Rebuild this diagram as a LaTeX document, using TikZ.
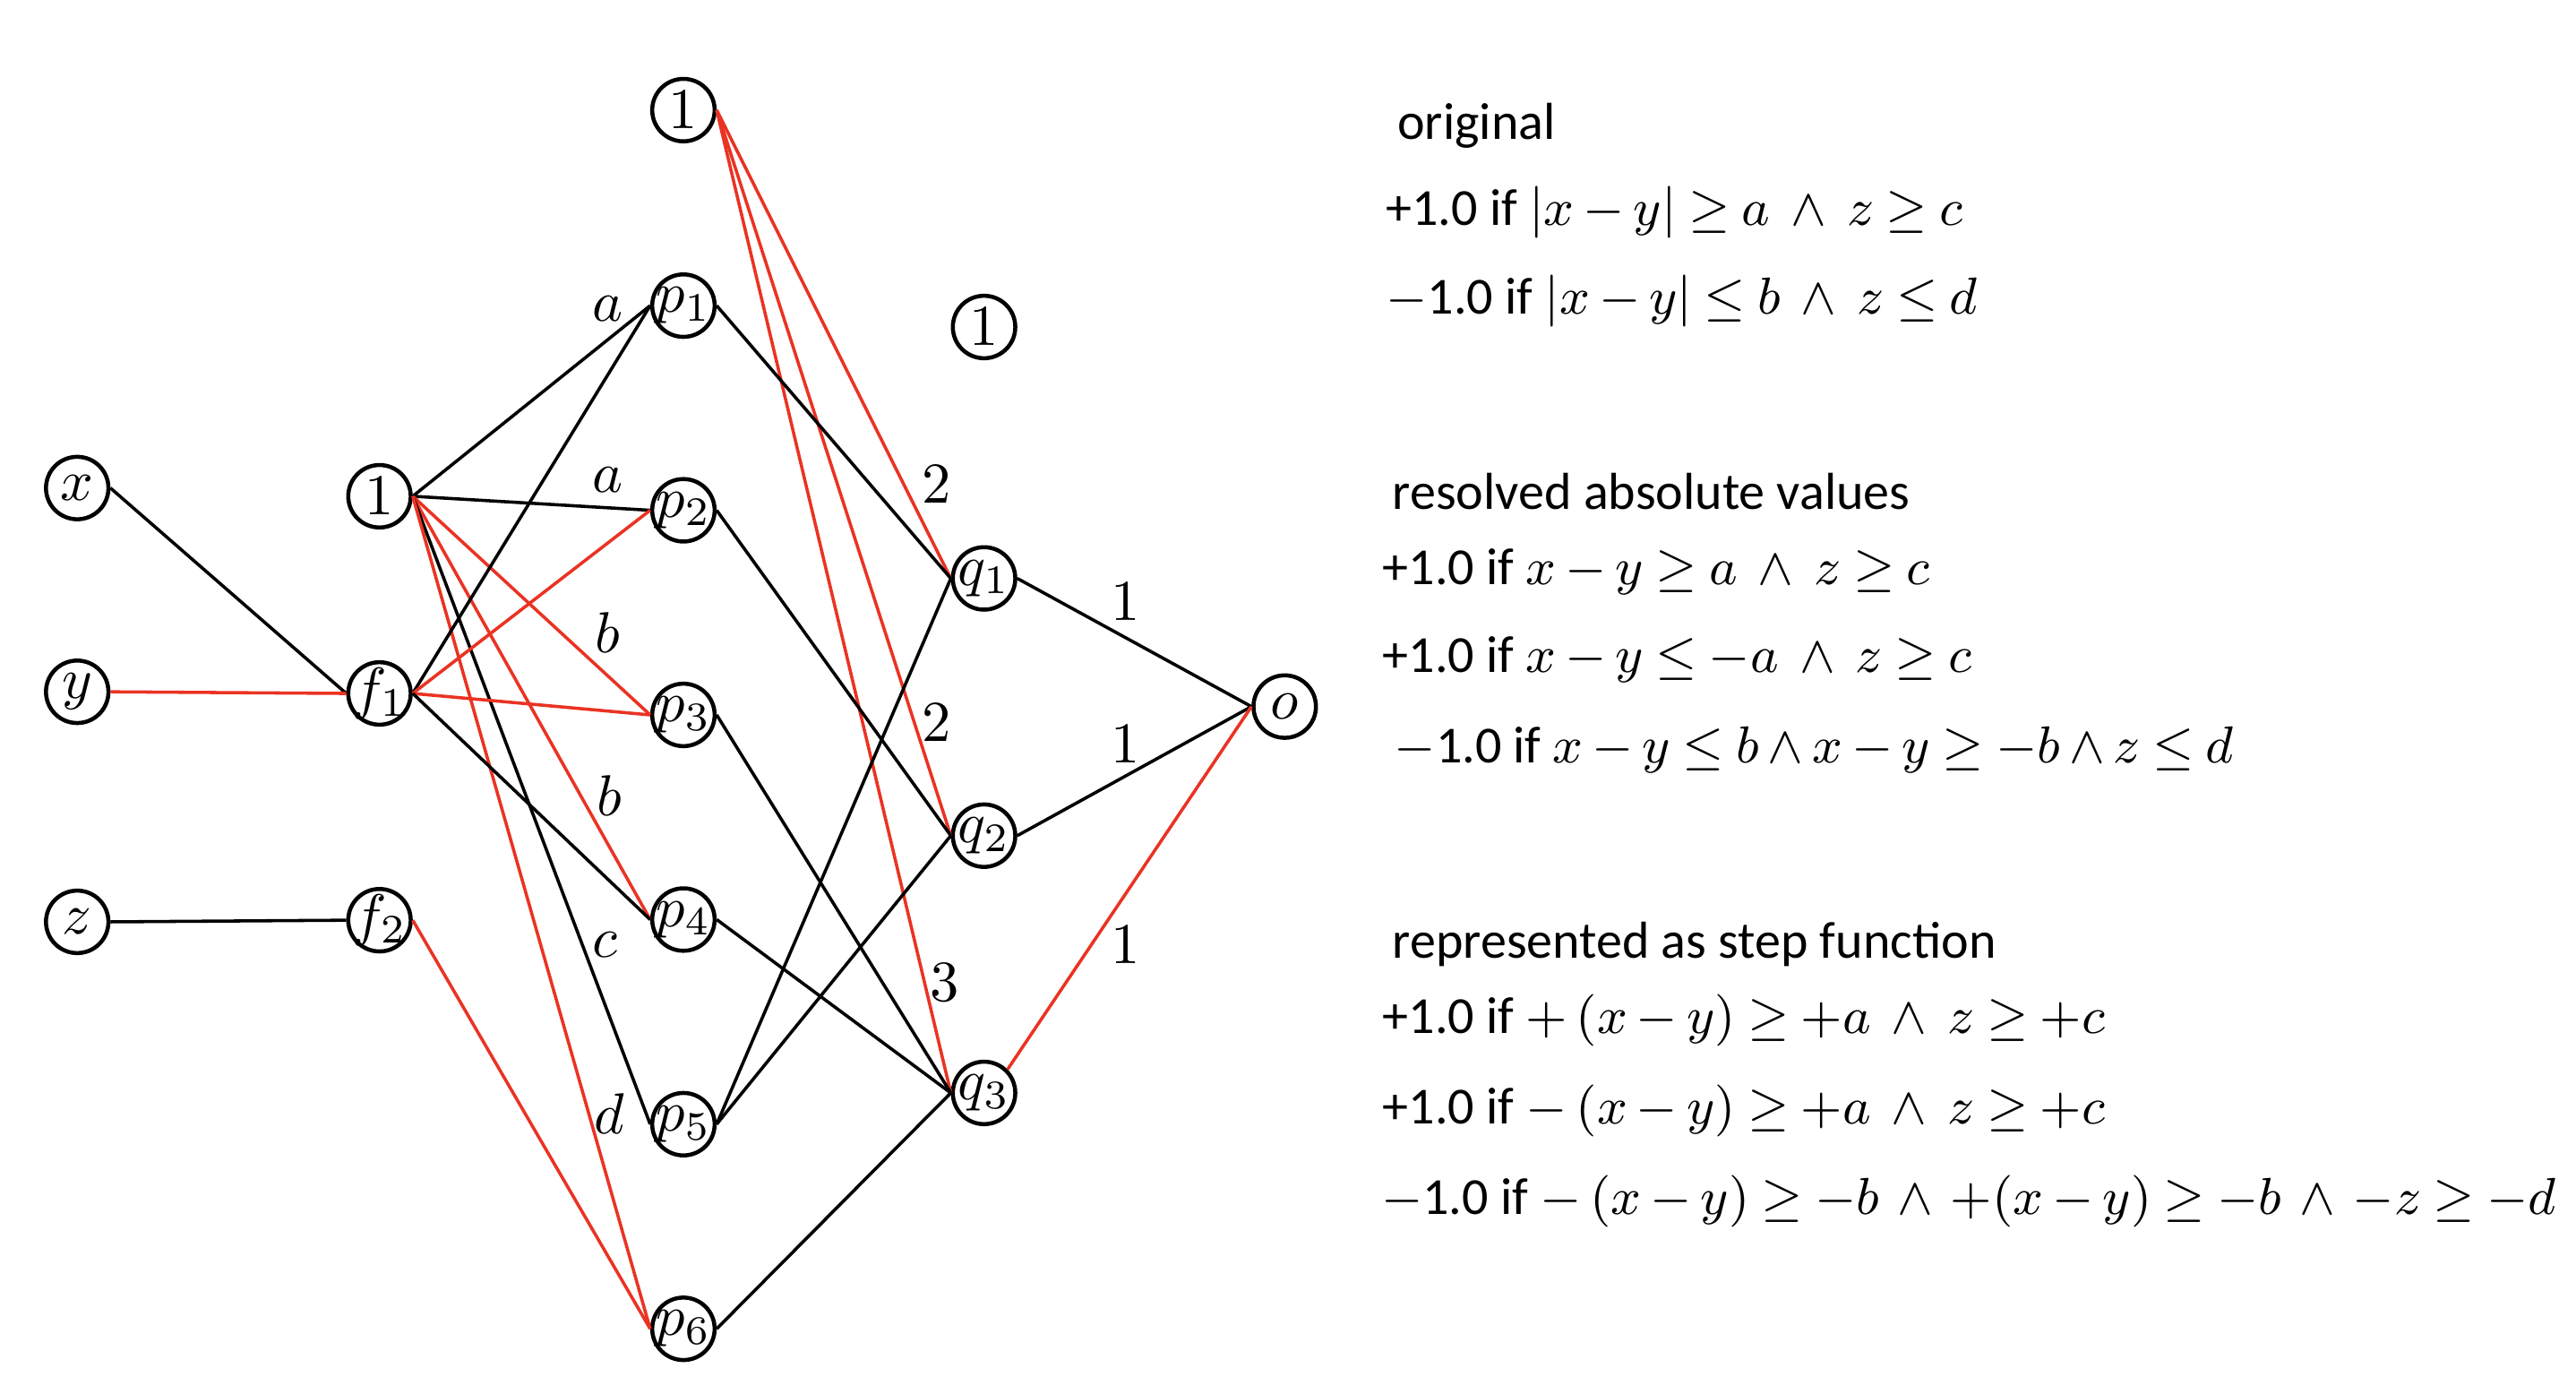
\documentclass[tikz,border=0pt]{standalone}
\usepackage{amsmath, amssymb}
\usepackage{fontspec}
\newfontfamily\calibri{Carlito}
\usepackage{xcolor}
\usepackage{tikz}
\usetikzlibrary{positioning}
\definecolor{netred}{RGB}{234,51,35}
\newcommand{\inunit}[1]{\makebox[0pt]{$#1$}}
\newcommand{\notefont}{\calibri\fontsize{9}{11}\selectfont
  \medmuskip=3mu plus 1mu minus 1mu \thickmuskip=4mu plus 2mu minus 1mu}

\begin{document}
\begin{tikzpicture}[
    x=0.01cm, y=-0.01cm,
    node distance=0.84cm,
    unit/.style={circle, draw, line width=0.7pt, minimum size=3.8mm,
                 inner sep=0pt, font=\normalsize},
    wire/.style={line width=0.55pt, draw=black},
    redwire/.style={line width=0.55pt, draw=netred},
    weight/.style={font=\normalsize, inner sep=0pt},
    note/.style={anchor=base west, inner sep=0pt, font=\notefont}
]
    \useasboundingbox (0,0) rectangle (1568,848);

    % inputs and features
    \node[unit] (x) at (47,297) {\inunit{x}};
    \node[unit] (y) at (47,421) {\inunit{y}};
    \node[unit] (z) at (47,561) {\inunit{z}};
    \node[unit] (one) at (231,302) {\inunit{1}};
    \node[unit] (f1) at (231,422) {\inunit{f_1}};
    \node[unit] (f2) at (231,560) {\inunit{f_2}};

    % step units
    \node[unit] (onetop) at (416,67) {\inunit{1}};
    \node[unit] (p1) at (416,186) {\inunit{p_1}};
    \node[unit, below=of p1] (p2) {\inunit{p_2}};
    \node[unit, below=of p2] (p3) {\inunit{p_3}};
    \node[unit, below=of p3] (p4) {\inunit{p_4}};
    \node[unit, below=of p4] (p5) {\inunit{p_5}};
    \node[unit, below=of p5] (p6) {\inunit{p_6}};

    % conjunctions and output
    \node[unit] (onemid) at (599,199) {\inunit{1}};
    \node[unit] (q1) at (599,352) {\inunit{q_1}};
    \node[unit, below=1.16cm of q1] (q2) {\inunit{q_2}};
    \node[unit, below=1.16cm of q2] (q3) {\inunit{q_3}};
    \node[unit] (o) at (782,430) {\inunit{o}};

    \draw[wire] (x.east) -- (f1.west);
    \draw[redwire] (y.east) -- (f1.west);
    \draw[wire] (z.east) -- (f2.west);

    \draw[wire] (one.east) -- (p1.west);
    \draw[wire] (one.east) -- (p2.west);
    \draw[redwire] (one.east) -- (p3.west);
    \draw[redwire] (one.east) -- (p4.west);
    \draw[wire] (one.east) -- (p5.west);
    \draw[redwire] (one.east) -- (p6.west);
    \draw[wire] (f1.east) -- (p1.west);
    \draw[redwire] (f1.east) -- (p2.west);
    \draw[redwire] (f1.east) -- (p3.west);
    \draw[wire] (f1.east) -- (p4.west);
    \draw[redwire] (f2.east) -- (p6.west);

    \draw[redwire] (onetop.east) -- (q1.west);
    \draw[redwire] (onetop.east) -- (q2.west);
    \draw[redwire] (onetop.east) -- (q3.west);
    \draw[wire] (p1.east) -- (q1.west);
    \draw[wire] (p2.east) -- (q2.west);
    \draw[wire] (p3.east) -- (q3.west);
    \draw[wire] (p4.east) -- (q3.west);
    \draw[wire] (p5.east) -- (q1.west);
    \draw[wire] (p5.east) -- (q2.west);
    \draw[wire] (p6.east) -- (q3.west);

    \draw[wire] (q1.east) -- (o.west);
    \draw[wire] (q2.east) -- (o.west);
    \draw[redwire] (q3.north east) -- (o.west);

    % weights
    \node[weight] (wa1) at (370,188) {$a$};
    \node[weight] (wa2) at (370,292) {$a$};
    \node[weight] (wb1) at (370,385) {$b$};
    \node[weight] (wb2) at (371,484) {$b$};
    \node[weight] (wc) at (368,575) {$c$};
    \node[weight] (wd) at (371,678) {$d$};
    \node[weight] (wt1) at (570,295) {$2$};
    \node[weight] (wt2) at (570,440) {$2$};
    \node[weight] (wt3) at (575,598) {$3$};
    \node[weight] (wo1) at (685,366) {$1$};
    \node[weight] (wo2) at (685,453) {$1$};
    \node[weight] (wo3) at (685,575) {$1$};

    % rule text
    \node[note] (orig) at (850,85) {original};
    \node[note] (orig1) at (843,137) {+1.0 if $|x-y|\geq a\ \wedge\ z\geq c$};
    \node[note] (orig2) at (843,191) {$-$1.0 if $|x-y|\leq b\ \wedge\ z\leq d$};
    \node[note] (res) at (847,310) {resolved absolute values};
    \node[note] (res1) at (841,356) {+1.0 if $x-y\geq a\ \wedge\ z\geq c$};
    \node[note] (res2) at (841,409) {+1.0 if $x-y\leq -a\ \wedge\ z\geq c$};
    \node[note] (res3) at (848,464) {$-$1.0 if $x-y\leq b\wedge x-y\geq -b\wedge z\leq d$};
    \node[note] (stp) at (847,583) {represented as step function};
    \node[note] (stp1) at (841,629) {+1.0 if $+\,(x-y)\geq +a\ \wedge\ z\geq +c$};
    \node[note] (stp2) at (841,684) {+1.0 if $-\,(x-y)\geq +a\ \wedge\ z\geq +c$};
    \node[note] (stp3) at (840,739) {$-$1.0 if $-\,(x-y)\geq -b\,\wedge\,+(x-y)\geq -b\,\wedge\,-z\geq -d$};
\end{tikzpicture}
\end{document}
